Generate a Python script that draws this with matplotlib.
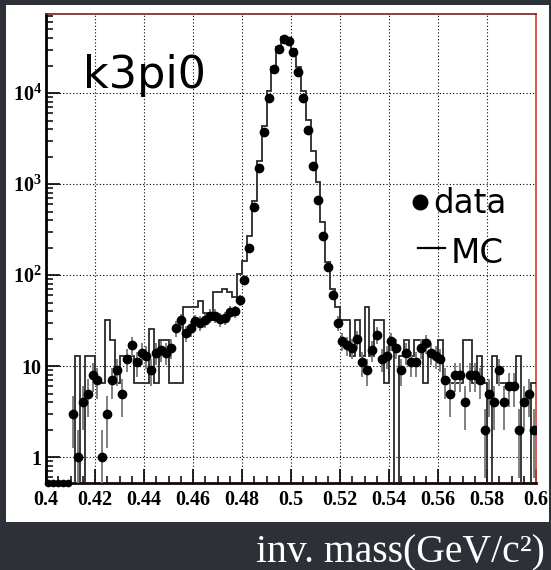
import numpy as np
import matplotlib
matplotlib.use('Agg')
import matplotlib.pyplot as plt
from matplotlib.patches import Rectangle
from matplotlib.lines import Line2D
from matplotlib.ticker import MultipleLocator, LogLocator, FixedLocator, FixedFormatter, NullFormatter

# ---------------- data ----------------
x_min, x_max = 0.4, 0.6
n_bins = 100

data_counts = [
    0, 0, 0, 0, 0, 3, 1, 4, 5, 8,
    7, 1, 3, 7, 9, 5, 12, 17, 11, 14,
    13, 9, 14, 15, 14, 16, 26, 32, 23, 26,
    31, 30, 32, 36, 36, 33, 34, 39, 40, 53,
    88, 200, 555, 1490, 3760, 8870, 18400, 30200, 39200, 37600,
    28400, 16900, 8750, 3920, 1590, 670, 270, 123, 61, 30,
    19, 17, 16, 20, 11, 9, 15, 22, 12, 13,
    19, 16, 9, 14, 11, 11, 16, 18, 14, 13,
    12, 7, 5, 8, 8, 4, 8, 8, 7, 2,
    5, 4, 9, 4, 6, 6, 2, 4, 5, 2,
]

mc_counts = [
    0, 0, 0, 0, 0, 0, 12.9, 0, 12.9, 12.9,
    6.45, 6.45, 32.3, 19.4, 6.45, 12.9, 12.9, 12.9, 6.45, 6.45,
    6.45, 25.8, 6.45, 19.4, 19.4, 6.45, 6.45, 6.45, 45.2, 45.2,
    45.2, 51.6, 38.7, 38.7, 64.5, 64.5, 71, 64.5, 58, 103,
    142, 268, 650, 1790, 4340, 10600, 19500, 32000, 40900, 40000,
    30200, 19400, 10600, 5050, 2300, 1060, 385, 140, 71, 45,
    32.3, 32.3, 12.9, 32.3, 12.9, 45.2, 12.9, 32.3, 32.3, 6.45,
    19.4, 0, 12.9, 19.4, 12.9, 19.4, 19.4, 6.45, 12.9, 12.9,
    19.4, 6.45, 6.45, 6.45, 6.45, 19.4, 19.4, 6.45, 12.9, 6.45,
    0, 12.9, 6.45, 6.45, 6.45, 6.45, 12.9, 0, 0, 6.45,
]

x_ticks = [0.4, 0.42, 0.44, 0.46, 0.48, 0.5, 0.52, 0.54, 0.56, 0.58, 0.6]
x_tick_labels = ['0.4', '0.42', '0.44', '0.46', '0.48', '0.5',
                 '0.52', '0.54', '0.56', '0.58', '0.6']
y_ticks = [1, 10, 100, 1000, 10000]
y_tick_labels = ['1', '10', r'$\mathbf{10}^{\mathbf{2}}$',
                 r'$\mathbf{10}^{\mathbf{3}}$', r'$\mathbf{10}^{\mathbf{4}}$']
title_text = 'k3pi0'
legend_labels = ['data', 'MC']
x_label = 'inv. mass(GeV/c\u00b2)'

# ---------------- figure ----------------
W, H = 551, 570
plt.rcParams['mathtext.fontset'] = 'custom'
plt.rcParams['mathtext.rm'] = 'Liberation Serif'
plt.rcParams['mathtext.bf'] = 'Liberation Serif:bold'
plt.rcParams['mathtext.it'] = 'Liberation Serif:italic'
fig = plt.figure(figsize=(W / 100, H / 100), dpi=100)
fig.patch.set_facecolor('#2d3037')

def fx(px):
    return px / W

def fy(py):
    return 1 - py / H

# white panel
fig.add_artist(Rectangle((fx(6), fy(522)), (549 - 6) / W, (522 - 5) / H,
                         transform=fig.transFigure, facecolor='white',
                         edgecolor='none', zorder=0))

ax = fig.add_axes([fx(46), fy(483), (536 - 46) / W, (483 - 14) / H])
ax.set_facecolor('white')
ax.set_yscale('log')
y_lo, y_hi = 0.52, 7.4e4
ax.set_xlim(x_min, x_max)
ax.set_ylim(y_lo, y_hi)

edges = np.linspace(x_min, x_max, n_bins + 1)
centers = 0.5 * (edges[:-1] + edges[1:])
data = np.array(data_counts, dtype=float)
mc = np.array(mc_counts, dtype=float)

# MC step histogram
ax.stairs(np.where(mc > 0, mc, 1e-3), edges, baseline=None,
          color='#2a2a2a', linewidth=1.3, zorder=3)

# data error bars + points
pos = data > 0
err = np.sqrt(data[pos])
lo = np.maximum(data[pos] - err, 1e-3)
hi = data[pos] + err
ax.vlines(centers[pos], lo, hi, color='#808080', linewidth=1.4, zorder=4)
ax.plot(centers[pos], data[pos], 'o', color='black', markersize=6,
        zorder=5, linestyle='none')
# zero bins drawn on the lower frame edge
ax.plot(centers[~pos], np.full((~pos).sum(), y_lo), 'o', color='black',
        markersize=4.5, zorder=6, clip_on=False, linestyle='none')

# grid / ticks
ax.xaxis.set_major_locator(FixedLocator(x_ticks))
ax.xaxis.set_major_formatter(FixedFormatter(x_tick_labels))
ax.xaxis.set_minor_locator(MultipleLocator(0.005))
ax.yaxis.set_major_locator(FixedLocator(y_ticks))
ax.yaxis.set_major_formatter(FixedFormatter(y_tick_labels))
ax.yaxis.set_minor_locator(LogLocator(base=10, subs=np.arange(2, 10)))
ax.yaxis.set_minor_formatter(NullFormatter())
ax.grid(True, which='major', linestyle=(0, (1, 2)), color='black',
        linewidth=0.8, zorder=1)
ax.set_axisbelow(True)

ax.tick_params(axis='both', which='major', direction='in', length=10,
               width=1.2, color='black')
ax.tick_params(axis='both', which='minor', direction='in', length=5,
               width=1.1, color='black')
ax.tick_params(axis='x', pad=5)
ax.tick_params(axis='y', pad=3)
ax.tick_params(top=False, right=False, which='both')
for lab in ax.get_xticklabels() + ax.get_yticklabels():
    lab.set_fontfamily('Liberation Serif')
    lab.set_fontweight('bold')
    lab.set_fontsize(14.5)
    lab.set_color('black')

ax.spines['left'].set_linewidth(2.0)
ax.spines['bottom'].set_linewidth(2.0)
ax.spines['bottom'].set_color('#1a0505')
ax.spines['top'].set_linewidth(1.2)
ax.spines['top'].set_color('#7a2020')
ax.spines['right'].set_linewidth(1.2)
ax.spines['right'].set_color('#d83a30')

# title-like label
fig.text(fx(83), fy(88), title_text, family='DejaVu Sans', fontsize=32,
         color='black', ha='left', va='baseline', zorder=10)

# legend
fig.add_artist(Line2D([fx(420)], [fy(202)], marker='o', markersize=10.5,
                      color='black', linestyle='none',
                      transform=fig.transFigure, zorder=10))
fig.text(fx(433), fy(213), legend_labels[0], family='DejaVu Sans',
         fontsize=23.5, color='black', ha='left', va='baseline', zorder=10)
fig.add_artist(Line2D([fx(418), fx(445)], [fy(248), fy(248)],
                      color='black', linewidth=1.6,
                      transform=fig.transFigure, zorder=10))
fig.text(fx(451), fy(263), legend_labels[1], family='DejaVu Sans',
         fontsize=24.5, color='black', ha='left', va='baseline', zorder=10)

# axis title below the panel
fig.text(fx(545), fy(562), x_label, family='Liberation Serif', fontsize=28.5,
         color='white', ha='right', va='baseline')

fig.savefig('out.png', dpi=100, facecolor=fig.get_facecolor())
